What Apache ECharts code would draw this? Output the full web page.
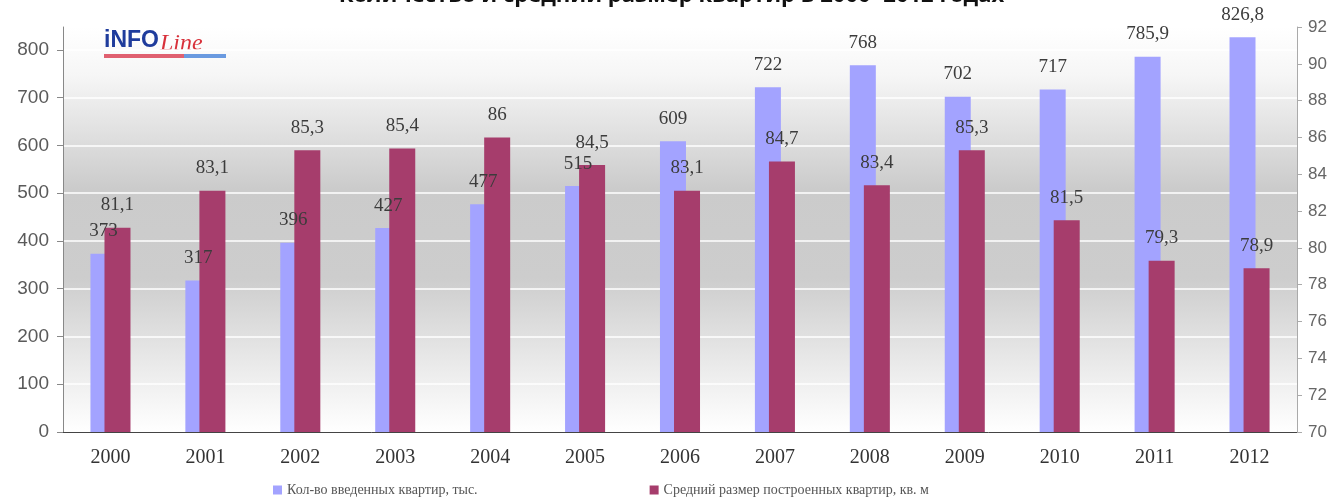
<!DOCTYPE html>
<html>
<head>
<meta charset="utf-8">
<script src="https://cdn.jsdelivr.net/npm/echarts@6/dist/echarts.min.js"></script>
<style>
  html, body { margin: 0; padding: 0; background: #fff; }
  #chart { width: 1343px; height: 498px; }
</style>
</head>
<body>
<div id="chart"></div>
<script>
const years = ['2000', '2001', '2002', '2003', '2004', '2005', '2006', '2007', '2008', '2009', '2010', '2011', '2012'];
const flatsCount = [373, 317, 396, 427, 477, 515, 609, 722, 768, 702, 717, 785.9, 826.8];
const flatsSize = [81.1, 83.1, 85.3, 85.4, 86, 84.5, 83.1, 84.7, 83.4, 85.3, 81.5, 79.3, 78.9];
const leftTicks = [0, 100, 200, 300, 400, 500, 600, 700, 800];

const serif = '"Liberation Serif", "DejaVu Serif", serif';
const sans = '"Liberation Sans", Arial, sans-serif';
const comma = (p) => String(p.value).replace('.', ',');

const chart = echarts.init(document.getElementById('chart'));

chart.setOption({
  animation: false,
  title: {
    text: 'Количество и средний размер квартир в 2000- 2012 годах',
    left: 'center',
    top: -20,
    textStyle: { fontFamily: '"Open Sans", sans-serif', fontWeight: 'bold', fontSize: 22, color: '#111' },
  },
  legend: {
    left: 268,
    bottom: -4,
    itemGap: 172,
    itemWidth: 9,
    itemHeight: 9,
    icon: 'rect',
    textStyle: { fontFamily: serif, fontSize: 14, color: '#555' },
  },
  grid: {
    left: 63,
    right: 46,
    top: 27,
    bottom: 66,
    show: true,
    borderWidth: 0,
    backgroundColor: new echarts.graphic.LinearGradient(0, 0, 0, 1, [
      { offset: 0, color: '#ffffff' },
      { offset: 0.12, color: '#f6f6f6' },
      { offset: 0.4, color: '#cbcbcb' },
      { offset: 0.62, color: '#cdcdcd' },
      { offset: 0.85, color: '#ececec' },
      { offset: 1, color: '#ffffff' },
    ]),
  },
  xAxis: {
    type: 'category',
    data: years,
    axisLine: { lineStyle: { color: '#444' } },
    axisTick: { length: 6, lineStyle: { color: '#444' } },
    axisLabel: { fontFamily: serif, fontSize: 20, color: '#333', margin: 16 },
  },
  yAxis: [
    {
      type: 'value',
      min: 0,
      max: 848,
      interval: 100,
      axisLine: { show: true, lineStyle: { color: '#888' } },
      axisTick: { show: true, length: 6, lineStyle: { color: '#888' }, customValues: leftTicks },
      axisLabel: { fontFamily: sans, fontSize: 19, color: '#5a5a5a', margin: 14, customValues: leftTicks },
      splitLine: { show: true, lineStyle: { color: 'rgba(255,255,255,0.75)', width: 2 } },
    },
    {
      type: 'value',
      min: 70,
      max: 92,
      interval: 2,
      position: 'right',
      axisLine: { show: true, lineStyle: { color: '#aaa' } },
      axisTick: { show: true, length: 5, lineStyle: { color: '#aaa' } },
      axisLabel: { fontFamily: sans, fontSize: 17, color: '#666', margin: 11 },
      splitLine: { show: false },
    },
  ],
  series: [
    {
      name: 'Кол-во введенных квартир, тыс.',
      type: 'bar',
      data: flatsCount,
      barWidth: 26,
      barGap: '-46%',
      itemStyle: { color: '#a3a3ff' },
      label: {
        show: true,
        position: 'top',
        distance: 13,
        formatter: comma,
        fontFamily: serif,
        fontSize: 19,
        color: '#3c3c3c',
      },
    },
    {
      name: 'Средний размер построенных квартир, кв. м',
      type: 'bar',
      yAxisIndex: 1,
      data: flatsSize,
      barWidth: 26,
      itemStyle: { color: '#a63d6c' },
      label: {
        show: true,
        position: 'top',
        distance: 13,
        formatter: comma,
        fontFamily: serif,
        fontSize: 19,
        color: '#3c3c3c',
      },
    },
  ],
  graphic: [
    {
      type: 'group',
      left: 104,
      top: 29,
      children: [
        { type: 'text', x: 0, y: 0, style: { text: 'iNFO', font: 'bold 23px "Liberation Sans Narrow", "Liberation Sans", sans-serif', fill: '#1f3c9c' } },
        { type: 'text', x: 56, y: 3, style: { text: 'Line', font: 'italic 24px "Liberation Serif", serif', fill: '#d8303a' } },
        { type: 'rect', shape: { x: 0, y: 25, width: 80, height: 4 }, style: { fill: '#e06070' } },
        { type: 'rect', shape: { x: 80, y: 25, width: 42, height: 4 }, style: { fill: '#6a9ae0' } },
      ],
    },
    {
      type: 'text',
      left: 122,
      top: 396,
      style: { text: '1', font: '15px "Liberation Serif", serif', fill: '#333' },
    },
  ],
});
</script>
</body>
</html>
